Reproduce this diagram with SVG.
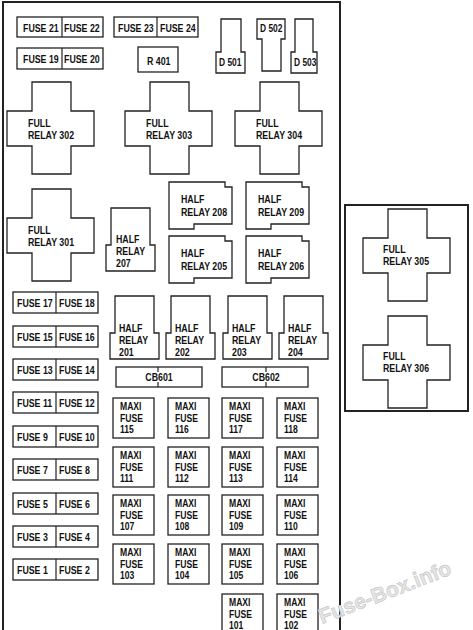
<svg xmlns="http://www.w3.org/2000/svg" xmlns:xlink="http://www.w3.org/1999/xlink" width="473" height="630" viewBox="0 0 473 630">
<style>
.s{fill:#fff;stroke:#222;stroke-width:1.3}
.b{fill:none;stroke:#222;stroke-width:2}
.d{stroke:#222;stroke-width:1.2}
.t{font-family:"Liberation Sans",Arial,sans-serif;font-weight:bold;font-size:10.5px;fill:#111}
.m{font-family:"Liberation Sans",Arial,sans-serif;font-weight:bold;font-size:11px;fill:#111}
.w{font-family:"Liberation Sans",Arial,sans-serif;font-weight:bold;font-size:21px;fill:#e6e6e6;stroke:#c4c4c4;stroke-width:0.6}
</style>
<defs>
<path id="full" d="M25,0 h39 v29 h23 v35 h-23 v28 h-39 v-28 h-25 v-35 h25 z"/>
<path id="halfv" d="M5,0 h39 v37 h5 v26 h-49 v-26 h5 z"/>
<path id="halfh" d="M0,0 H56 V5 H63 V42 H25 V47 H0 Z"/>
<rect id="maxi" width="41" height="40"/>
<rect id="pair" width="85" height="21"/>
</defs>
<rect width="473" height="630" fill="#fff"/>
<rect class="b" x="3" y="2" width="337" height="640"/>
<rect class="b" x="345" y="205" width="123" height="206"/>

<g id="fuse21_22"><rect class="s" x="17" y="17" width="86" height="20"/><line class="d" x1="62" y1="17" x2="62" y2="37"/>
<text class="t" transform="translate(23,32) scale(.84,1)">FUSE 21</text><text class="t" transform="translate(64,32) scale(.84,1)">FUSE 22</text></g>
<g id="fuse19_20"><rect class="s" x="17" y="48" width="86" height="21"/><line class="d" x1="62" y1="48" x2="62" y2="69"/>
<text class="t" transform="translate(23,63) scale(.84,1)">FUSE 19</text><text class="t" transform="translate(64,63) scale(.84,1)">FUSE 20</text></g>
<g id="fuse23_24"><rect class="s" x="114" y="17" width="84" height="20"/><line class="d" x1="157" y1="17" x2="157" y2="37"/>
<text class="t" transform="translate(118,32) scale(.84,1)">FUSE 23</text><text class="t" transform="translate(160,32) scale(.84,1)">FUSE 24</text></g>
<g id="r401"><rect class="s" x="138" y="47" width="40" height="25"/><text class="t" transform="translate(147,65) scale(.84,1)">R 401</text></g>
<g id="d501"><path class="s" d="M221,19 H241 V52 H245 V73 H216 V52 H221 Z"/><text class="t" transform="translate(219,66) scale(.8,1)">D 501</text></g>
<g id="d502"><path class="s" d="M257,19 H285 V39 H281 V71 H262 V39 H257 Z"/><text class="t" transform="translate(260,32) scale(.8,1)">D 502</text></g>
<g id="d503"><path class="s" d="M295,19 H313 V52 H317 V73 H291 V52 H295 Z"/><text class="t" transform="translate(294,66) scale(.8,1)">D 503</text></g>

<g id="relay302"><use href="#full" class="s" x="7" y="82"/><text class="t" transform="translate(28,127) scale(.84,1)"><tspan x="0" y="0">FULL</tspan><tspan x="0" y="12">RELAY 302</tspan></text></g>
<g id="relay303"><use href="#full" class="s" x="125" y="82"/><text class="t" transform="translate(146,127) scale(.84,1)"><tspan x="0" y="0">FULL</tspan><tspan x="0" y="12">RELAY 303</tspan></text></g>
<g id="relay304"><use href="#full" class="s" x="235" y="82"/><text class="t" transform="translate(256,127) scale(.84,1)"><tspan x="0" y="0">FULL</tspan><tspan x="0" y="12">RELAY 304</tspan></text></g>
<g id="relay301"><use href="#full" class="s" x="7" y="189"/><text class="t" transform="translate(28,234) scale(.84,1)"><tspan x="0" y="0">FULL</tspan><tspan x="0" y="12">RELAY 301</tspan></text></g>
<g id="relay305"><use href="#full" class="s" x="363" y="209"/><text class="t" transform="translate(383,253) scale(.84,1)"><tspan x="0" y="0">FULL</tspan><tspan x="0" y="12">RELAY 305</tspan></text></g>
<g id="relay306"><use href="#full" class="s" x="363" y="316"/><text class="t" transform="translate(383,360) scale(.84,1)"><tspan x="0" y="0">FULL</tspan><tspan x="0" y="12">RELAY 306</tspan></text></g>

<g id="relay207"><use href="#halfv" class="s" x="106" y="208"/><text class="t" transform="translate(116,243) scale(.84,1)"><tspan x="0" y="0">HALF</tspan><tspan x="0" y="12">RELAY</tspan><tspan x="0" y="24">207</tspan></text></g>
<g id="relay208"><use href="#halfh" class="s" x="169" y="182"/><text class="t" transform="translate(181,203) scale(.84,1)"><tspan x="0" y="0">HALF</tspan><tspan x="0" y="13">RELAY 208</tspan></text></g>
<g id="relay209"><use href="#halfh" class="s" x="246" y="182"/><text class="t" transform="translate(258,203) scale(.84,1)"><tspan x="0" y="0">HALF</tspan><tspan x="0" y="13">RELAY 209</tspan></text></g>
<g id="relay205"><use href="#halfh" class="s" x="169" y="236"/><text class="t" transform="translate(181,257) scale(.84,1)"><tspan x="0" y="0">HALF</tspan><tspan x="0" y="13">RELAY 205</tspan></text></g>
<g id="relay206"><use href="#halfh" class="s" x="246" y="236"/><text class="t" transform="translate(258,257) scale(.84,1)"><tspan x="0" y="0">HALF</tspan><tspan x="0" y="13">RELAY 206</tspan></text></g>

<g id="relay201"><use href="#halfv" class="s" x="110" y="296"/><text class="t" transform="translate(119,332) scale(.84,1)"><tspan x="0" y="0">HALF</tspan><tspan x="0" y="12">RELAY</tspan><tspan x="0" y="24">201</tspan></text></g>
<g id="relay202"><use href="#halfv" class="s" x="166" y="296"/><text class="t" transform="translate(175,332) scale(.84,1)"><tspan x="0" y="0">HALF</tspan><tspan x="0" y="12">RELAY</tspan><tspan x="0" y="24">202</tspan></text></g>
<g id="relay203"><use href="#halfv" class="s" x="223" y="296"/><text class="t" transform="translate(232,332) scale(.84,1)"><tspan x="0" y="0">HALF</tspan><tspan x="0" y="12">RELAY</tspan><tspan x="0" y="24">203</tspan></text></g>
<g id="relay204"><use href="#halfv" class="s" x="279" y="296"/><text class="t" transform="translate(288,332) scale(.84,1)"><tspan x="0" y="0">HALF</tspan><tspan x="0" y="12">RELAY</tspan><tspan x="0" y="24">204</tspan></text></g>

<g id="cb601"><rect class="s" x="116" y="367" width="86" height="20"/><line class="d" x1="158" y1="367" x2="158" y2="372"/><line class="d" x1="158" y1="382" x2="158" y2="387"/><text class="t" text-anchor="middle" transform="translate(159,381) scale(.84,1)">CB601</text></g>
<g id="cb602"><rect class="s" x="222" y="367" width="86" height="20"/><line class="d" x1="266" y1="367" x2="266" y2="372"/><line class="d" x1="266" y1="382" x2="266" y2="387"/><text class="t" text-anchor="middle" transform="translate(266,381) scale(.84,1)">CB602</text></g>

<g id="fuse17_18"><use href="#pair" class="s" x="13" y="292"/><line class="d" x1="56" y1="292" x2="56" y2="313"/><text class="t" transform="translate(17,307) scale(.84,1)">FUSE 17</text><text class="t" transform="translate(59,307) scale(.84,1)">FUSE 18</text></g>
<g id="fuse15_16"><use href="#pair" class="s" x="13" y="326"/><line class="d" x1="56" y1="326" x2="56" y2="347"/><text class="t" transform="translate(17,341) scale(.84,1)">FUSE 15</text><text class="t" transform="translate(59,341) scale(.84,1)">FUSE 16</text></g>
<g id="fuse13_14"><use href="#pair" class="s" x="13" y="359"/><line class="d" x1="56" y1="359" x2="56" y2="380"/><text class="t" transform="translate(17,374) scale(.84,1)">FUSE 13</text><text class="t" transform="translate(59,374) scale(.84,1)">FUSE 14</text></g>
<g id="fuse11_12"><use href="#pair" class="s" x="13" y="392"/><line class="d" x1="56" y1="392" x2="56" y2="413"/><text class="t" transform="translate(17,407) scale(.84,1)">FUSE 11</text><text class="t" transform="translate(59,407) scale(.84,1)">FUSE 12</text></g>
<g id="fuse9_10"><use href="#pair" class="s" x="13" y="426"/><line class="d" x1="56" y1="426" x2="56" y2="447"/><text class="t" transform="translate(17,441) scale(.84,1)">FUSE 9</text><text class="t" transform="translate(59,441) scale(.84,1)">FUSE 10</text></g>
<g id="fuse7_8"><use href="#pair" class="s" x="13" y="459"/><line class="d" x1="56" y1="459" x2="56" y2="480"/><text class="t" transform="translate(17,474) scale(.84,1)">FUSE 7</text><text class="t" transform="translate(59,474) scale(.84,1)">FUSE 8</text></g>
<g id="fuse5_6"><use href="#pair" class="s" x="13" y="493"/><line class="d" x1="56" y1="493" x2="56" y2="514"/><text class="t" transform="translate(17,508) scale(.84,1)">FUSE 5</text><text class="t" transform="translate(59,508) scale(.84,1)">FUSE 6</text></g>
<g id="fuse3_4"><use href="#pair" class="s" x="13" y="526"/><line class="d" x1="56" y1="526" x2="56" y2="547"/><text class="t" transform="translate(17,541) scale(.84,1)">FUSE 3</text><text class="t" transform="translate(59,541) scale(.84,1)">FUSE 4</text></g>
<g id="fuse1_2"><use href="#pair" class="s" x="13" y="559"/><line class="d" x1="56" y1="559" x2="56" y2="580"/><text class="t" transform="translate(17,574) scale(.84,1)">FUSE 1</text><text class="t" transform="translate(59,574) scale(.84,1)">FUSE 2</text></g>

<g id="maxi115"><use href="#maxi" class="s" x="113" y="398"/><text class="m" transform="translate(120,410) scale(.78,1)"><tspan x="0" y="0">MAXI</tspan><tspan x="0" y="12">FUSE</tspan><tspan x="0" y="23">115</tspan></text></g>
<g id="maxi116"><use href="#maxi" class="s" x="168" y="398"/><text class="m" transform="translate(175,410) scale(.78,1)"><tspan x="0" y="0">MAXI</tspan><tspan x="0" y="12">FUSE</tspan><tspan x="0" y="23">116</tspan></text></g>
<g id="maxi117"><use href="#maxi" class="s" x="222" y="398"/><text class="m" transform="translate(229,410) scale(.78,1)"><tspan x="0" y="0">MAXI</tspan><tspan x="0" y="12">FUSE</tspan><tspan x="0" y="23">117</tspan></text></g>
<g id="maxi118"><use href="#maxi" class="s" x="277" y="398"/><text class="m" transform="translate(284,410) scale(.78,1)"><tspan x="0" y="0">MAXI</tspan><tspan x="0" y="12">FUSE</tspan><tspan x="0" y="23">118</tspan></text></g>
<g id="maxi111"><use href="#maxi" class="s" x="113" y="447"/><text class="m" transform="translate(120,459) scale(.78,1)"><tspan x="0" y="0">MAXI</tspan><tspan x="0" y="12">FUSE</tspan><tspan x="0" y="23">111</tspan></text></g>
<g id="maxi112"><use href="#maxi" class="s" x="168" y="447"/><text class="m" transform="translate(175,459) scale(.78,1)"><tspan x="0" y="0">MAXI</tspan><tspan x="0" y="12">FUSE</tspan><tspan x="0" y="23">112</tspan></text></g>
<g id="maxi113"><use href="#maxi" class="s" x="222" y="447"/><text class="m" transform="translate(229,459) scale(.78,1)"><tspan x="0" y="0">MAXI</tspan><tspan x="0" y="12">FUSE</tspan><tspan x="0" y="23">113</tspan></text></g>
<g id="maxi114"><use href="#maxi" class="s" x="277" y="447"/><text class="m" transform="translate(284,459) scale(.78,1)"><tspan x="0" y="0">MAXI</tspan><tspan x="0" y="12">FUSE</tspan><tspan x="0" y="23">114</tspan></text></g>
<g id="maxi107"><use href="#maxi" class="s" x="113" y="495"/><text class="m" transform="translate(120,507) scale(.78,1)"><tspan x="0" y="0">MAXI</tspan><tspan x="0" y="12">FUSE</tspan><tspan x="0" y="23">107</tspan></text></g>
<g id="maxi108"><use href="#maxi" class="s" x="168" y="495"/><text class="m" transform="translate(175,507) scale(.78,1)"><tspan x="0" y="0">MAXI</tspan><tspan x="0" y="12">FUSE</tspan><tspan x="0" y="23">108</tspan></text></g>
<g id="maxi109"><use href="#maxi" class="s" x="222" y="495"/><text class="m" transform="translate(229,507) scale(.78,1)"><tspan x="0" y="0">MAXI</tspan><tspan x="0" y="12">FUSE</tspan><tspan x="0" y="23">109</tspan></text></g>
<g id="maxi110"><use href="#maxi" class="s" x="277" y="495"/><text class="m" transform="translate(284,507) scale(.78,1)"><tspan x="0" y="0">MAXI</tspan><tspan x="0" y="12">FUSE</tspan><tspan x="0" y="23">110</tspan></text></g>
<g id="maxi103"><use href="#maxi" class="s" x="113" y="544"/><text class="m" transform="translate(120,556) scale(.78,1)"><tspan x="0" y="0">MAXI</tspan><tspan x="0" y="12">FUSE</tspan><tspan x="0" y="23">103</tspan></text></g>
<g id="maxi104"><use href="#maxi" class="s" x="168" y="544"/><text class="m" transform="translate(175,556) scale(.78,1)"><tspan x="0" y="0">MAXI</tspan><tspan x="0" y="12">FUSE</tspan><tspan x="0" y="23">104</tspan></text></g>
<g id="maxi105"><use href="#maxi" class="s" x="222" y="544"/><text class="m" transform="translate(229,556) scale(.78,1)"><tspan x="0" y="0">MAXI</tspan><tspan x="0" y="12">FUSE</tspan><tspan x="0" y="23">105</tspan></text></g>
<g id="maxi106"><use href="#maxi" class="s" x="277" y="544"/><text class="m" transform="translate(284,556) scale(.78,1)"><tspan x="0" y="0">MAXI</tspan><tspan x="0" y="12">FUSE</tspan><tspan x="0" y="23">106</tspan></text></g>
<g id="maxi101"><use href="#maxi" class="s" x="222" y="594"/><text class="m" transform="translate(229,606) scale(.78,1)"><tspan x="0" y="0">MAXI</tspan><tspan x="0" y="12">FUSE</tspan><tspan x="0" y="23">101</tspan></text></g>
<g id="maxi102"><use href="#maxi" class="s" x="277" y="594"/><text class="m" transform="translate(284,606) scale(.78,1)"><tspan x="0" y="0">MAXI</tspan><tspan x="0" y="12">FUSE</tspan><tspan x="0" y="23">102</tspan></text></g>

<g id="connectors"></g>
<text class="w" transform="translate(322,624) rotate(-21)">Fuse-Box.info</text>
</svg>
